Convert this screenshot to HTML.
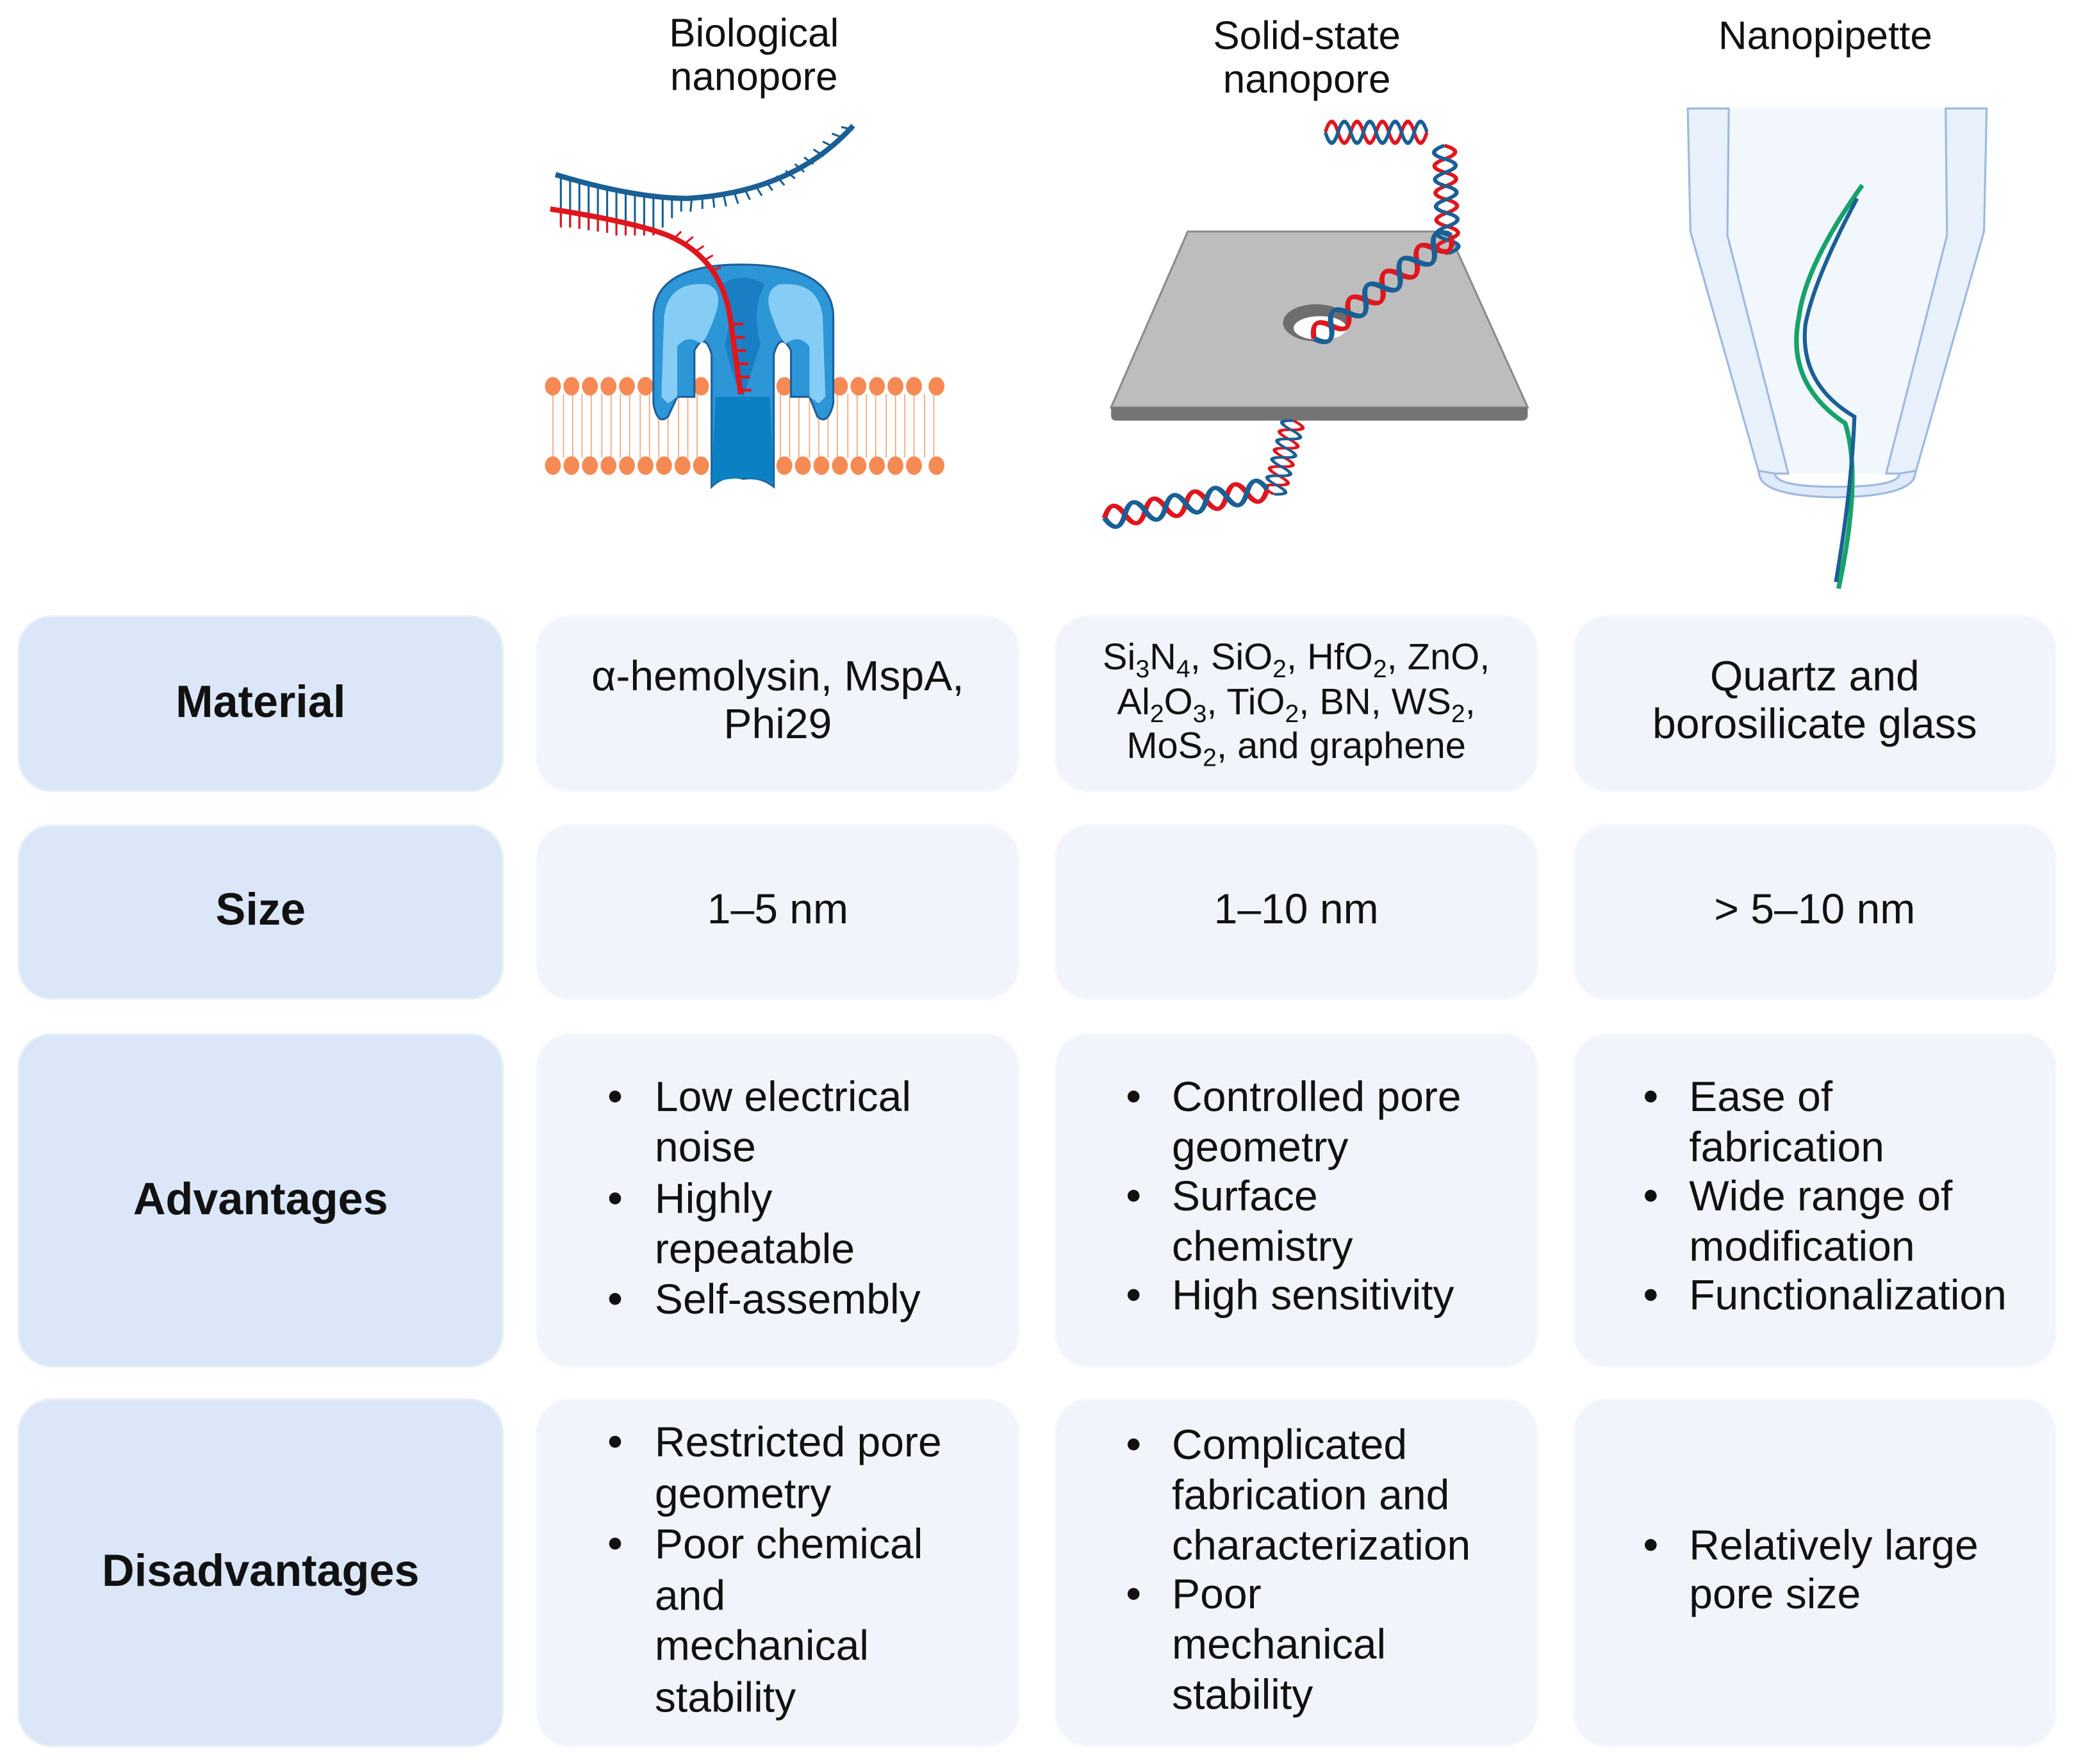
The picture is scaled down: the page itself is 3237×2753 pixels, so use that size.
<!DOCTYPE html>
<html><head><meta charset="utf-8"><style>
html,body{margin:0;padding:0;background:#fff;}
svg{display:block;}
text{font-family:"Liberation Sans",sans-serif;fill:#111;}
.h{font-weight:bold;font-size:34px;text-anchor:middle;}
.c{font-size:32px;}
.m{text-anchor:middle;}
.t{font-size:30px;text-anchor:middle;}
.s{font-size:28px;}
.hd{fill:#dbe7f8;stroke:#e6eefa;stroke-width:1.5;}
.cl{fill:#f1f5fb;stroke:#f4f7fc;stroke-width:1.5;}
</style></head><body>
<svg width="3237" height="2753" viewBox="0 0 1568 1333.6" xmlns="http://www.w3.org/2000/svg">
<defs>
<g id="hx">
<path d="M0,0 q6,-16 12,0 t12,0 t12,0 t12,0 t12,0 t12,0 t12,0 t12,0" fill="none" stroke="#e0161e" stroke-width="3.2"/>
<path d="M0,0 q6,16 12,0 t12,0 t12,0 t12,0 t12,0 t12,0 t12,0 t12,0" fill="none" stroke="#1a5f95" stroke-width="3.2"/>
</g>
</defs>
<text class="t" x="570" y="35">Biological</text>
<text class="t" x="570" y="68">nanopore</text>
<text class="t" x="988" y="37">Solid-state</text>
<text class="t" x="988" y="70">nanopore</text>
<text class="t" x="1380" y="37">Nanopipette</text>

<g>
<g stroke="#f5a27a" stroke-width="0.8">
<path d="M418,298 V346 M426,298 V346 M433,298 V346 M440,298 V346 M447,298 V346 M455,298 V346 M462,298 V346 M469,298 V346 M476,298 V346 M484,298 V346 M491,298 V346 M498,298 V346 M505,298 V346 M513,298 V346 M520,298 V346 M527,298 V346"/>
<path d="M590,298 V346 M597,298 V346 M604,298 V346 M612,298 V346 M619,298 V346 M626,298 V346 M633,298 V346 M641,298 V346 M648,298 V346 M655,298 V346 M662,298 V346 M670,298 V346 M677,298 V346 M684,298 V346 M691,298 V346 M699,298 V346 M706,298 V346"/>
</g>
<g fill="#f58a55">
<ellipse cx="418" cy="292" rx="6" ry="7"/><ellipse cx="432" cy="292" rx="6" ry="7"/><ellipse cx="446" cy="292" rx="6" ry="7"/><ellipse cx="460" cy="292" rx="6" ry="7"/><ellipse cx="474" cy="292" rx="6" ry="7"/><ellipse cx="488" cy="292" rx="6" ry="7"/><ellipse cx="502" cy="292" rx="6" ry="7"/><ellipse cx="516" cy="292" rx="6" ry="7"/><ellipse cx="530" cy="292" rx="6" ry="7"/>
<ellipse cx="593" cy="292" rx="6" ry="7"/><ellipse cx="607" cy="292" rx="6" ry="7"/><ellipse cx="621" cy="292" rx="6" ry="7"/><ellipse cx="635" cy="292" rx="6" ry="7"/><ellipse cx="649" cy="292" rx="6" ry="7"/><ellipse cx="663" cy="292" rx="6" ry="7"/><ellipse cx="677" cy="292" rx="6" ry="7"/><ellipse cx="691" cy="292" rx="6" ry="7"/><ellipse cx="708" cy="292" rx="6" ry="7"/>
<ellipse cx="418" cy="352" rx="6" ry="7"/><ellipse cx="432" cy="352" rx="6" ry="7"/><ellipse cx="446" cy="352" rx="6" ry="7"/><ellipse cx="460" cy="352" rx="6" ry="7"/><ellipse cx="474" cy="352" rx="6" ry="7"/><ellipse cx="488" cy="352" rx="6" ry="7"/><ellipse cx="502" cy="352" rx="6" ry="7"/><ellipse cx="516" cy="352" rx="6" ry="7"/><ellipse cx="530" cy="352" rx="6" ry="7"/>
<ellipse cx="593" cy="352" rx="6" ry="7"/><ellipse cx="607" cy="352" rx="6" ry="7"/><ellipse cx="621" cy="352" rx="6" ry="7"/><ellipse cx="635" cy="352" rx="6" ry="7"/><ellipse cx="649" cy="352" rx="6" ry="7"/><ellipse cx="663" cy="352" rx="6" ry="7"/><ellipse cx="677" cy="352" rx="6" ry="7"/><ellipse cx="691" cy="352" rx="6" ry="7"/><ellipse cx="708" cy="352" rx="6" ry="7"/>
</g>
<path d="M494,240 Q494,200 560,200 Q630,200 630,240 L630,305 Q626,322 618,315 L612,300 L598,300 L598,265 Q590,250 585,268 L585,368 Q575,360 562,362 Q548,358 538,368 L538,268 Q533,250 525,265 L525,300 L512,300 L505,315 Q497,322 494,305 Z" fill="#2c96d6" stroke="#1d5f9a" stroke-width="1.5"/>
<path d="M502,240 Q505,212 535,215 Q548,220 540,240 Q535,255 530,260 Q520,252 512,262 L512,300 L505,305 L500,300 Z" fill="#86cdf5"/>
<path d="M622,240 Q619,212 589,215 Q576,220 584,240 Q589,255 594,260 Q604,252 612,262 L612,300 L619,305 L624,300 Z" fill="#86cdf5"/>
<path d="M545,215 Q562,205 578,215 Q568,235 575,260 Q565,290 562,300 Q555,290 548,260 Q556,235 545,215 Z" fill="#1a7ec4"/>
<path d="M541,300 L582,300 L585,365 Q562,358 538,365 Z" fill="#0b80c3"/>
<path d="M420,132 Q480,150 520,150 Q600,145 645,95" fill="none" stroke="#1a5f95" stroke-width="4"/>
<g stroke="#1a5f95" stroke-width="1.5"><path d="M424,134 V170 M431,136 V172 M438,138 V173 M445,140 V174 M452,142 V175 M459,144 V176 M466,145 V178 M473,147 V178 M480,148 V178 M487,149 V178 M494,150 V178 M501,150 V172 M508,150 V165 M515,150 V160 M523,150 L522,160 M531,149 L531,158 M539,148 L540,157 M547,147 L549,156 M555,145 L558,154 M563,143 L567,151 M571,140 L576,148 M579,137 L584,144 M587,133 L593,140 M594,129 L601,135 M601,124 L608,130 M608,119 L615,124 M615,113 L623,118 M622,107 L630,111 M629,101 L637,104 M636,96 L645,98"/></g>
<path d="M416,158 Q480,168 505,178 Q545,195 552,240 L560,298" fill="none" stroke="#e0161e" stroke-width="4"/>
<g stroke="#e0161e" stroke-width="1.5"><path d="M424,159 V172 M431,160 V172 M438,162 V173 M445,163 V174 M452,164 V175 M459,165 V176 M466,166 V178 M473,168 V178 M480,169 V178 M487,170 V178 M494,172 V178 M510,180 L515,175 M518,184 L524,179 M526,190 L532,186 M532,197 L539,193 M537,205 L545,202"/></g>
<g stroke="#e0161e" stroke-width="2.2"><path d="M553,245 H562 M554,255 H563 M555,265 H564 M556,275 H566 M557,285 H567 M558,295 H568"/></g>
</g>

<path d="M898,175 L1095,175 L1155,308 L840,308 Z" fill="#bdbdbd" stroke="#8a8a8a" stroke-width="1.5"/>
<path d="M840,308 L1155,308 L1155,314 Q1155,318 1150,318 L844,318 Q840,318 840,314 Z" fill="#747474"/>
<ellipse cx="995" cy="244" rx="25" ry="14" fill="#6e6e6e"/>
<ellipse cx="998" cy="248" rx="20" ry="9" fill="#fff"/>
<use href="#hx" transform="translate(1002,100) scale(0.8,1)"/>
<use href="#hx" transform="translate(1092,110) rotate(88) scale(0.85,1)"/>
<use href="#hx" transform="translate(1097,178) rotate(143) scale(1.35,1)"/>
<use href="#hx" transform="translate(978,318) rotate(105) scale(0.6,1)"/>
<use href="#hx" transform="translate(958,370) rotate(170) scale(1.3,1)"/>

<path d="M1276,82 L1278,175 L1330,358 L1448,358 L1500,175 L1502,82 Z" fill="#f2f7fe"/>
<path d="M1276,82 L1278,175 L1330,358 L1352,358 L1306,178 L1307,82 Z" fill="#e8f1fc" stroke="#9bb8e0" stroke-width="1.5"/>
<path d="M1502,82 L1500,175 L1448,358 L1426,358 L1472,178 L1471,82 Z" fill="#e8f1fc" stroke="#9bb8e0" stroke-width="1.5"/>
<path d="M1330,356 Q1328,375 1388,376 Q1450,375 1448,356 L1436,358 Q1436,368 1388,368 Q1342,368 1342,358 Z" fill="#dfeafa" stroke="#9bb8e0" stroke-width="1.5"/>
<path d="M1408,140 Q1365,200 1360,240 Q1350,290 1395,320 Q1408,360 1390,445" fill="none" stroke="#16a36a" stroke-width="3.5"/>
<path d="M1404,150 Q1372,210 1365,245 Q1360,290 1402,315 Q1400,370 1388,440" fill="none" stroke="#1a5f95" stroke-width="3"/>

<rect class="hd" x="14" y="466" width="366" height="132" rx="25"/>
<rect class="cl" x="406" y="466" width="364" height="132" rx="25"/>
<rect class="cl" x="798" y="466" width="364" height="132" rx="25"/>
<rect class="cl" x="1190" y="466" width="364" height="132" rx="25"/>
<rect class="hd" x="14" y="624" width="366" height="131" rx="25"/>
<rect class="cl" x="406" y="624" width="364" height="131" rx="25"/>
<rect class="cl" x="798" y="624" width="364" height="131" rx="25"/>
<rect class="cl" x="1190" y="624" width="364" height="131" rx="25"/>
<rect class="hd" x="14" y="782" width="366" height="251" rx="25"/>
<rect class="cl" x="406" y="782" width="364" height="251" rx="25"/>
<rect class="cl" x="798" y="782" width="364" height="251" rx="25"/>
<rect class="cl" x="1190" y="782" width="364" height="251" rx="25"/>
<rect class="hd" x="14" y="1058" width="366" height="262" rx="25"/>
<rect class="cl" x="406" y="1058" width="364" height="262" rx="25"/>
<rect class="cl" x="798" y="1058" width="364" height="262" rx="25"/>
<rect class="cl" x="1190" y="1058" width="364" height="262" rx="25"/>

<text class="h" x="197" y="542">Material</text>
<text class="h" x="197" y="699">Size</text>
<text class="h" x="197" y="918">Advantages</text>
<text class="h" x="197" y="1199">Disadvantages</text>

<text class="c m" x="588" y="522">α-hemolysin, MspA,</text>
<text class="c m" x="588" y="558">Phi29</text>
<text class="s m" x="980" y="506">Si<tspan font-size="19" dy="6">3</tspan><tspan dy="-6">N</tspan><tspan font-size="19" dy="6">4</tspan><tspan dy="-6">, SiO</tspan><tspan font-size="19" dy="6">2</tspan><tspan dy="-6">, HfO</tspan><tspan font-size="19" dy="6">2</tspan><tspan dy="-6">, ZnO,</tspan></text>
<text class="s m" x="980" y="540">Al<tspan font-size="19" dy="6">2</tspan><tspan dy="-6">O</tspan><tspan font-size="19" dy="6">3</tspan><tspan dy="-6">, TiO</tspan><tspan font-size="19" dy="6">2</tspan><tspan dy="-6">, BN, WS</tspan><tspan font-size="19" dy="6">2</tspan><tspan dy="-6">,</tspan></text>
<text class="s m" x="980" y="573">MoS<tspan font-size="19" dy="6">2</tspan><tspan dy="-6">, and graphene</tspan></text>
<text class="c m" x="1372" y="522">Quartz and</text>
<text class="c m" x="1372" y="558">borosilicate glass</text>

<text class="c m" x="588" y="698">1–5 nm</text>
<text class="c m" x="980" y="698">1–10 nm</text>
<text class="c m" x="1372" y="698">&gt; 5–10 nm</text>

<g fill="#111">
<circle cx="465" cy="829" r="4.5"/><circle cx="465" cy="906" r="4.5"/><circle cx="465" cy="982" r="4.5"/>
<circle cx="857" cy="829" r="4.5"/><circle cx="857" cy="904" r="4.5"/><circle cx="857" cy="979" r="4.5"/>
<circle cx="1248" cy="829" r="4.5"/><circle cx="1248" cy="904" r="4.5"/><circle cx="1248" cy="979" r="4.5"/>
<circle cx="465" cy="1090" r="4.5"/><circle cx="465" cy="1167" r="4.5"/>
<circle cx="857" cy="1092" r="4.5"/><circle cx="857" cy="1205" r="4.5"/>
<circle cx="1248" cy="1168" r="4.5"/>
</g>
<text class="c" x="495" y="840">Low electrical</text>
<text class="c" x="495" y="878">noise</text>
<text class="c" x="495" y="917">Highly</text>
<text class="c" x="495" y="955">repeatable</text>
<text class="c" x="495" y="993">Self-assembly</text>
<text class="c" x="886" y="840">Controlled pore</text>
<text class="c" x="886" y="878">geometry</text>
<text class="c" x="886" y="915">Surface</text>
<text class="c" x="886" y="953">chemistry</text>
<text class="c" x="886" y="990">High sensitivity</text>
<text class="c" x="1277" y="840">Ease of</text>
<text class="c" x="1277" y="878">fabrication</text>
<text class="c" x="1277" y="915">Wide range of</text>
<text class="c" x="1277" y="953">modification</text>
<text class="c" x="1277" y="990">Functionalization</text>

<text class="c" x="495" y="1101">Restricted pore</text>
<text class="c" x="495" y="1140">geometry</text>
<text class="c" x="495" y="1178">Poor chemical</text>
<text class="c" x="495" y="1217">and</text>
<text class="c" x="495" y="1255">mechanical</text>
<text class="c" x="495" y="1294">stability</text>
<text class="c" x="886" y="1103">Complicated</text>
<text class="c" x="886" y="1141">fabrication and</text>
<text class="c" x="886" y="1179">characterization</text>
<text class="c" x="886" y="1216">Poor</text>
<text class="c" x="886" y="1254">mechanical</text>
<text class="c" x="886" y="1292">stability</text>
<text class="c" x="1277" y="1179">Relatively large</text>
<text class="c" x="1277" y="1216">pore size</text>
</svg>
</body></html>
